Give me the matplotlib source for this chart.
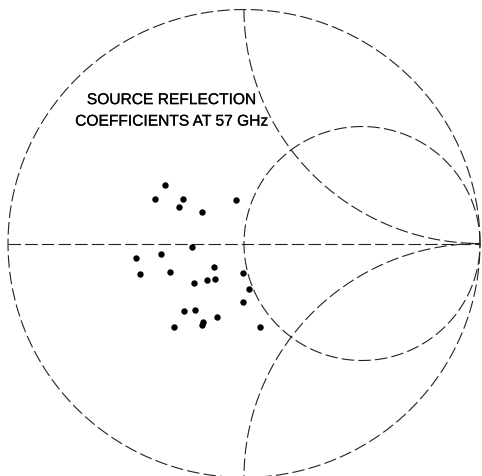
import numpy as np
import matplotlib
matplotlib.use('Agg')
import matplotlib.pyplot as plt
import matplotlib.patheffects as pe

# measured source reflection coefficients (real, imag) at 57 GHz
gamma_re = [-0.335, -0.377, -0.260, -0.275, -0.177, -0.033, -0.222, -0.459,
            -0.352, -0.442, -0.314, -0.126, -0.212, -0.157, -0.124, -0.006,
            0.021, -0.004, -0.253, -0.209, -0.172, -0.178, -0.114, -0.298,
            0.068]
gamma_im = [0.251, 0.189, 0.189, 0.157, 0.135, 0.186, -0.014, -0.062,
            -0.046, -0.130, -0.122, -0.102, -0.170, -0.156, -0.153, -0.127,
            -0.194, -0.250, -0.288, -0.283, -0.334, -0.347, -0.315, -0.357,
            -0.358]

title_lines = ["SOURCE REFLECTION", "COEFFICIENTS AT 57 GHz"]

plt.rcParams['lines.scale_dashes'] = False
fig = plt.figure(figsize=(4.82, 4.77), dpi=100)
ax = fig.add_axes([0, 0, 1, 1])
ax.set_xlim(-1.0339, 1.0085)
ax.set_ylim(-0.9936, 1.0449)
ax.axis('off')

dash = dict(color='#222222', lw=0.8, ls=(0, (9, 3)))

# outer |gamma| = 1 boundary
t = np.linspace(0, 2 * np.pi, 600)
ax.plot(np.cos(t), np.sin(t), **dash)
# real axis
ax.plot([-1, 1], [0, 0], **dash)
# r = 1 circle
ax.plot(0.5 + 0.5 * np.cos(t), 0.5 * np.sin(t), **dash)
# x = +1 and x = -1 reactance arcs
ta = np.linspace(np.pi, 1.5 * np.pi, 300)
ax.plot(1 + np.cos(ta), 1 + np.sin(ta), **dash)
tb = np.linspace(0.5 * np.pi, np.pi, 300)
ax.plot(1 + np.cos(tb), -1 + np.sin(tb), **dash)

ax.plot(gamma_re, gamma_im, 'o', color='black', ms=4.6, mew=0)

heavy = [pe.withStroke(linewidth=0.15, foreground='black')]
ax.text(-0.31, 0.615, title_lines[0], ha='center', va='center',
        fontsize=11.2, family='Liberation Sans', path_effects=heavy)
ax.text(-0.31, 0.523, title_lines[1], ha='center', va='center',
        fontsize=11.2, family='Liberation Sans', path_effects=heavy)

fig.savefig('out.png', dpi=100)
